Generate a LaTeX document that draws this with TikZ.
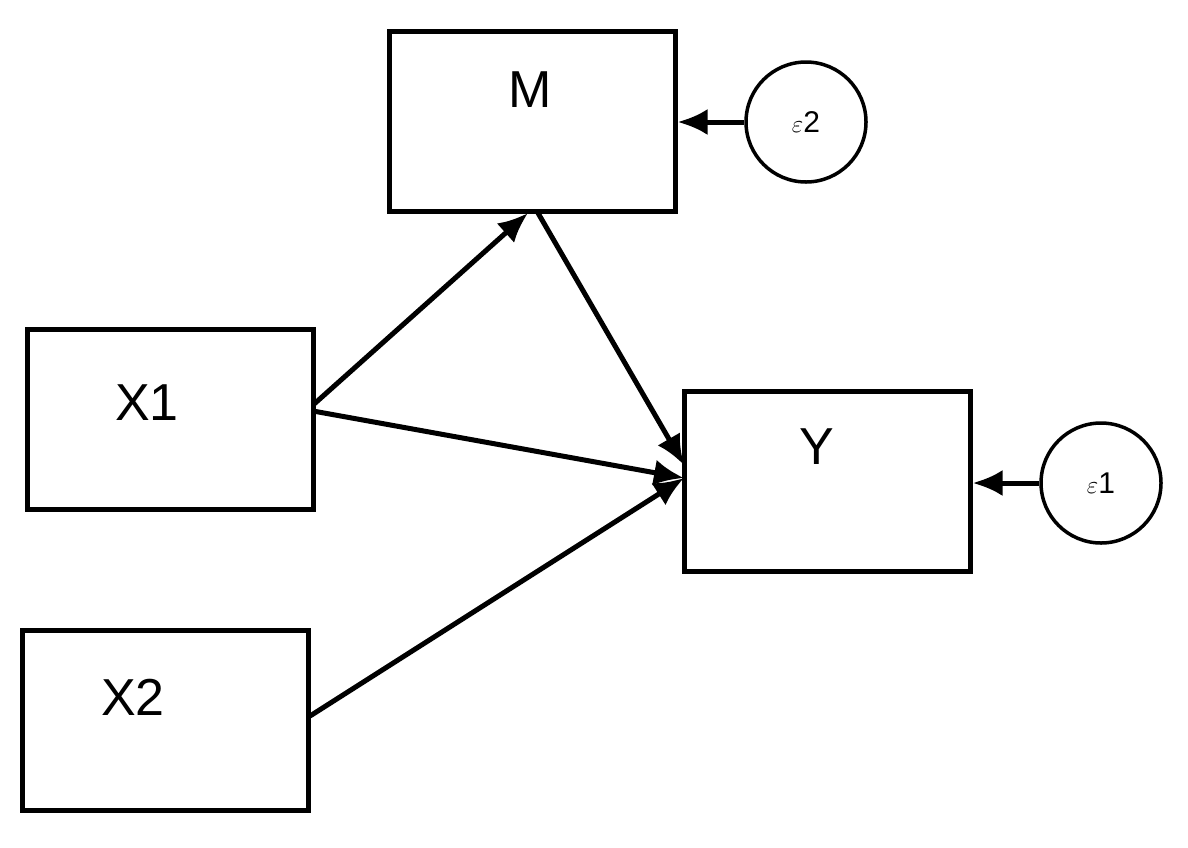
\documentclass[tikz,border=0pt]{standalone}
\usepackage{fontspec}
\setmainfont{Liberation Sans}
\usetikzlibrary{arrows.meta}
\begin{document}
\begin{tikzpicture}[x=1pt,y=-1pt,
  box/.style={draw,line width=5pt,minimum width=286pt,minimum height=180pt,inner sep=0pt},
  err/.style={draw,line width=3.5pt,circle,minimum size=120pt,inner sep=0pt},
  lbl/.style={font=\fontsize{52}{60}\selectfont},
  arr/.style={line width=5pt,-{Latex[length=30pt,width=26pt]}}]
\useasboundingbox (0,0) rectangle (1188,847);
\node[box] (M) at (532,121) {};
\node[lbl] (tM) at (530,90) {M};
\node[box] (X1) at (170,419) {};
\node[lbl] (tX1) at (147,403) {X1};
\node[box] (X2) at (165,720) {};
\node[lbl] (tX2) at (133,697) {X2};
\node[box] (Y) at (827,481) {};
\node[lbl] (tY) at (817,447) {Y};
\node[err] (e2) at (806,122) {\fontsize{44}{50}\selectfont$\varepsilon$\fontsize{30}{36}\selectfont 2};
\node[err] (e1) at (1101,483) {\fontsize{44}{50}\selectfont$\varepsilon$\fontsize{30}{36}\selectfont 1};
\coordinate (x1a) at (313,405);
\coordinate (x1b) at (313,411);
\coordinate (x2a) at (310,716);
\coordinate (ma) at (528,213);
\coordinate (mb) at (538,213);
\coordinate (ya) at (684,465);
\coordinate (yb) at (684,478);
\draw[arr] (x1a) -- (ma);
\draw[arr] (x1b) -- (yb);
\draw[arr] (x2a) -- (yb);
\draw[arr] (mb) -- (ya);
\draw[arr] (e2) -- (M.east |- e2);
\draw[arr] (e1) -- (Y.east |- e1);
\end{tikzpicture}
\end{document}
